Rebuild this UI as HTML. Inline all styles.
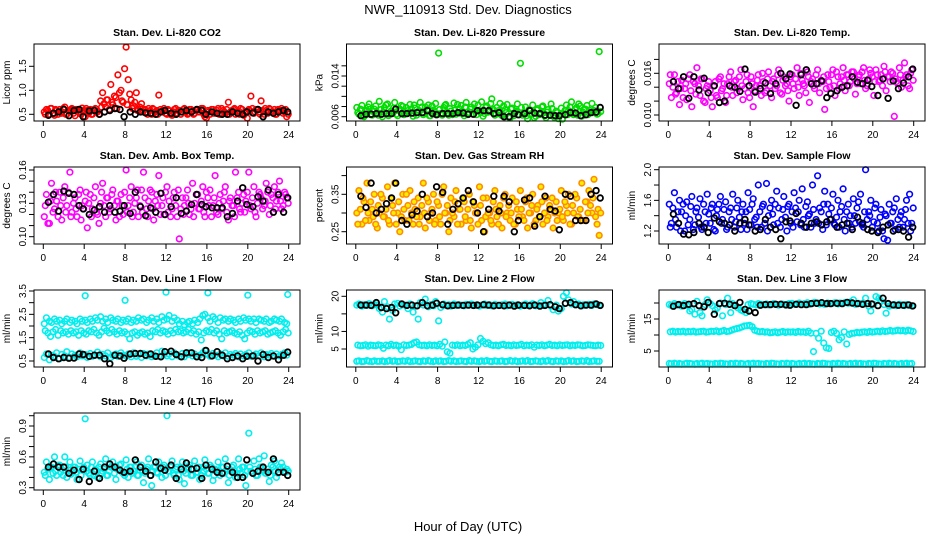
<!DOCTYPE html>
<html><head><meta charset="utf-8">
<style>
html,body{margin:0;padding:0;background:#fff;}
svg{display:block;font-family:"Liberation Sans",Helvetica,Arial,sans-serif;}
</style></head>
<body>
<svg id="chart" width="936" height="540" viewBox="0 0 936 540" xmlns="http://www.w3.org/2000/svg">
<text x="468" y="14" text-anchor="middle" font-size="13">NWR_110913  Std. Dev. Diagnostics</text>
<text x="468" y="531" text-anchor="middle" font-size="13">Hour of Day (UTC)</text>
<g id="panels"></g>
</svg>
<script>
const H=[0.1,0.3,0.6,0.8,1.1,1.3,1.6,1.8,2.1,2.3,2.6,2.8,3.1,3.3,3.6,3.8,4.1,4.3,4.6,4.8,5.1,5.3,5.6,5.8,6.1,6.3,6.6,6.8,7.1,7.3,7.6,7.8,8.1,8.3,8.6,8.8,9.1,9.3,9.6,9.8,10.1,10.3,10.6,10.8,11.1,11.3,11.6,11.8,12.1,12.3,12.6,12.8,13.1,13.3,13.6,13.8,14.1,14.3,14.6,14.8,15.1,15.3,15.6,15.8,16.1,16.3,16.6,16.8,17.1,17.3,17.6,17.8,18.1,18.3,18.6,18.8,19.1,19.3,19.6,19.8,20.1,20.3,20.6,20.8,21.1,21.3,21.6,21.8,22.1,22.3,22.6,22.8,23.1,23.3,23.6,23.8];
const H2=[0.2,0.45,0.7,0.95,1.2,1.45,1.7,1.95,2.2,2.45,2.7,2.95,3.2,3.45,3.7,3.95,4.2,4.45,4.7,4.95,5.2,5.45,5.7,5.95,6.2,6.45,6.7,6.95,7.2,7.45,7.7,7.95,8.2,8.45,8.7,8.95,9.2,9.45,9.7,9.95,10.2,10.45,10.7,10.95,11.2,11.45,11.7,11.95,12.2,12.45,12.7,12.95,13.2,13.45,13.7,13.95,14.2,14.45,14.7,14.95,15.2,15.45,15.7,15.95,16.2,16.45,16.7,16.95,17.2,17.45,17.7,17.95,18.2,18.45,18.7,18.95,19.2,19.45,19.7,19.95,20.2,20.45,20.7,20.95,21.2,21.45,21.7,21.95,22.2,22.45,22.7,22.95,23.2,23.45,23.7,23.95];
const BH=[0.5,1.0,1.5,2.0,2.5,3.0,3.5,3.9,4.5,5.0,5.5,6.0,6.5,7.0,7.5,7.9,8.5,9.0,9.5,10.0,10.5,11.0,11.5,11.9,12.5,13.0,13.5,14.0,14.5,15.0,15.5,15.9,16.5,17.0,17.5,18.0,18.5,19.0,19.5,19.9,20.5,21.0,21.5,22.0,22.5,23.0,23.5,23.9];
const xTicks=[0,4,8,12,16,20,24];

const A1=[0.55,0.6,0.5,0.62,0.48,0.58,0.6,0.52,0.65,0.5,0.57,0.62,0.47,0.6,0.55,0.63,0.45,0.58,0.6,0.5,0.62,0.55,0.78,0.95,0.65,0.8,1.12,0.7,0.85,1.32,1.0,0.75,1.9,1.22,0.8,0.68,0.95,0.6,0.72,0.58,0.55,0.62,0.5,0.6,0.58,0.9,0.55,0.62,0.5,0.57,0.48,0.6,0.52,0.58,0.55,0.62,0.5,0.6,0.57,0.52,0.6,0.55,0.62,0.45,0.58,0.5,0.6,0.55,0.62,0.5,0.58,0.52,0.75,0.55,0.6,0.5,0.57,0.62,0.48,0.55,0.6,0.88,0.52,0.6,0.55,0.78,0.5,0.58,0.62,0.55,0.6,0.5,0.58,0.62,0.55,0.45];
const B1=[0.5,0.58,0.62,0.52,0.6,0.5,0.55,0.62,0.5,0.58,0.6,0.52,0.6,0.55,0.5,0.58,0.62,0.52,0.5,0.6,0.55,0.5,0.65,0.72,0.8,0.6,0.75,0.88,0.62,0.95,0.78,1.45,0.7,0.92,0.62,0.75,0.58,0.65,0.55,0.6,0.5,0.58,0.62,0.55,0.5,0.6,0.58,0.52,0.6,0.5,0.55,0.62,0.58,0.5,0.6,0.55,0.52,0.6,0.5,0.58,0.55,0.62,0.5,0.42,0.55,0.6,0.52,0.58,0.5,0.62,0.55,0.6,0.5,0.58,0.62,0.55,0.5,0.6,0.52,0.42,0.58,0.62,0.55,0.6,0.5,0.58,0.62,0.52,0.6,0.55,0.5,0.6,0.58,0.52,0.6,0.5];
const K1=[0.48,0.52,0.55,0.6,0.47,0.58,0.6,0.45,0.57,0.58,0.5,0.55,0.58,0.62,0.6,0.45,0.55,0.5,0.55,0.53,0.52,0.5,0.55,0.58,0.52,0.5,0.55,0.58,0.55,0.6,0.58,0.5,0.55,0.52,0.5,0.5,0.55,0.52,0.5,0.55,0.53,0.6,0.45,0.55,0.52,0.55,0.58,0.55];

const A2=[0.0078,0.0065,0.0082,0.006,0.0072,0.0085,0.0063,0.0075,0.0068,0.009,0.006,0.0078,0.0085,0.0065,0.007,0.0088,0.0062,0.0075,0.008,0.0066,0.0072,0.0084,0.0061,0.0077,0.0069,0.0088,0.0064,0.0079,0.0083,0.0062,0.0073,0.0086,0.0185,0.0066,0.0078,0.0084,0.0063,0.0071,0.0087,0.0065,0.0076,0.0082,0.0062,0.0088,0.0068,0.0079,0.0085,0.0064,0.0072,0.0089,0.0066,0.0081,0.0074,0.0095,0.0063,0.0078,0.0086,0.0062,0.0074,0.0084,0.0058,0.0077,0.0069,0.0085,0.0165,0.0063,0.0079,0.0056,0.0072,0.0083,0.0061,0.0076,0.0068,0.0081,0.0058,0.0074,0.0085,0.0063,0.0071,0.0056,0.0077,0.0066,0.0083,0.0072,0.0089,0.0064,0.0078,0.0085,0.0061,0.0074,0.0082,0.0067,0.0086,0.0072,0.0065,0.0188];
const B2=[0.0068,0.0075,0.0062,0.0072,0.0079,0.0064,0.007,0.0081,0.0063,0.0074,0.0069,0.0083,0.0062,0.0071,0.0077,0.0065,0.0073,0.0082,0.0064,0.0078,0.0068,0.0075,0.0083,0.0063,0.0072,0.0079,0.0067,0.0074,0.0062,0.0081,0.0069,0.0066,0.0074,0.0063,0.0082,0.0068,0.0076,0.0064,0.0073,0.0084,0.0067,0.007,0.0079,0.0064,0.0075,0.0066,0.0072,0.0083,0.0068,0.0061,0.0078,0.0069,0.0086,0.0074,0.0066,0.0072,0.0064,0.0081,0.0068,0.0059,0.0075,0.0062,0.0071,0.0064,0.0078,0.0069,0.0062,0.0074,0.0066,0.0058,0.0073,0.0064,0.0079,0.0062,0.0069,0.0063,0.0076,0.0058,0.0068,0.0062,0.0055,0.0072,0.0064,0.0079,0.0067,0.0074,0.0063,0.0081,0.0069,0.0075,0.0064,0.0072,0.0068,0.0078,0.0066,0.007];
const K2=[0.0062,0.0065,0.0065,0.0066,0.0065,0.0066,0.0066,0.0075,0.0066,0.0066,0.0067,0.0068,0.0068,0.0072,0.0066,0.0064,0.0066,0.0066,0.0066,0.0068,0.0067,0.0065,0.0065,0.0072,0.0072,0.0072,0.0066,0.0068,0.006,0.006,0.0066,0.0064,0.0066,0.0072,0.0067,0.0066,0.0063,0.0063,0.0062,0.0062,0.0064,0.0068,0.0067,0.0062,0.0064,0.0068,0.0069,0.0078];

const A3=[0.0145,0.0125,0.0158,0.0132,0.0115,0.015,0.0138,0.0122,0.0158,0.0112,0.0145,0.0168,0.0128,0.0152,0.0118,0.0142,0.0135,0.0112,0.0148,0.0125,0.0155,0.0138,0.0118,0.0145,0.0162,0.0128,0.015,0.0138,0.0165,0.0122,0.0148,0.0132,0.0155,0.0112,0.0142,0.0158,0.0128,0.0148,0.0135,0.0162,0.0125,0.0152,0.0142,0.0165,0.013,0.0155,0.0145,0.012,0.0158,0.0138,0.0168,0.0128,0.015,0.0142,0.0162,0.0118,0.0152,0.0138,0.0165,0.0132,0.0148,0.0108,0.0158,0.014,0.0165,0.0128,0.0155,0.0145,0.0168,0.0135,0.0158,0.0148,0.0162,0.013,0.0155,0.0145,0.0168,0.0138,0.0152,0.016,0.0128,0.0165,0.0148,0.0158,0.017,0.0135,0.0155,0.0162,0.0098,0.0148,0.0168,0.014,0.0175,0.0158,0.0138,0.0165];
const B3=[0.0158,0.014,0.013,0.0148,0.0138,0.0125,0.0145,0.0152,0.0135,0.0148,0.013,0.0142,0.0152,0.012,0.0138,0.0148,0.0125,0.0142,0.0128,0.0152,0.0135,0.0145,0.0128,0.0155,0.014,0.0148,0.0132,0.0155,0.0142,0.0138,0.0158,0.0125,0.0145,0.0135,0.015,0.0142,0.016,0.0132,0.0152,0.0142,0.0148,0.0138,0.0158,0.0132,0.015,0.0142,0.0135,0.0155,0.0145,0.0152,0.014,0.016,0.0145,0.0132,0.0155,0.0148,0.0142,0.0158,0.0145,0.015,0.0155,0.0138,0.0148,0.0158,0.0142,0.0162,0.0138,0.0155,0.015,0.0158,0.0142,0.0162,0.0152,0.0145,0.0158,0.0162,0.015,0.0142,0.0165,0.0155,0.0148,0.0158,0.015,0.0142,0.0162,0.0155,0.0148,0.016,0.0152,0.0145,0.0158,0.015,0.0155,0.0142,0.016,0.015];
const K3=[0.0148,0.0138,0.0155,0.0124,0.0155,0.0136,0.0153,0.0132,0.0142,0.0118,0.012,0.0142,0.014,0.0134,0.0166,0.0142,0.0133,0.0138,0.0146,0.0131,0.0145,0.016,0.0152,0.0159,0.0114,0.0158,0.0165,0.0145,0.0145,0.0149,0.0125,0.0131,0.0135,0.014,0.0142,0.0155,0.0147,0.0145,0.015,0.0141,0.0128,0.0152,0.0124,0.0149,0.0138,0.0146,0.0155,0.0166];

const A4=[0.118,0.138,0.112,0.148,0.125,0.132,0.14,0.115,0.145,0.128,0.158,0.122,0.135,0.118,0.142,0.128,0.132,0.108,0.138,0.125,0.145,0.12,0.13,0.148,0.118,0.135,0.125,0.142,0.115,0.132,0.138,0.12,0.16,0.128,0.145,0.122,0.135,0.118,0.142,0.158,0.125,0.132,0.14,0.115,0.138,0.155,0.128,0.12,0.145,0.132,0.125,0.14,0.118,0.098,0.135,0.128,0.142,0.12,0.148,0.13,0.138,0.125,0.145,0.118,0.135,0.142,0.128,0.155,0.12,0.138,0.132,0.145,0.115,0.135,0.128,0.158,0.14,0.122,0.138,0.132,0.158,0.125,0.145,0.118,0.14,0.135,0.128,0.148,0.12,0.138,0.145,0.132,0.15,0.125,0.14,0.135];
const B4=[0.128,0.112,0.132,0.122,0.14,0.118,0.128,0.135,0.122,0.14,0.118,0.13,0.125,0.138,0.115,0.125,0.14,0.13,0.118,0.135,0.122,0.112,0.14,0.128,0.135,0.122,0.138,0.128,0.132,0.118,0.128,0.14,0.122,0.135,0.118,0.13,0.142,0.128,0.122,0.135,0.118,0.142,0.125,0.132,0.128,0.12,0.135,0.14,0.122,0.118,0.135,0.128,0.142,0.125,0.12,0.135,0.13,0.125,0.118,0.138,0.125,0.132,0.122,0.14,0.128,0.118,0.135,0.122,0.13,0.125,0.14,0.122,0.132,0.128,0.118,0.135,0.125,0.13,0.122,0.14,0.128,0.135,0.122,0.13,0.138,0.125,0.132,0.14,0.128,0.135,0.125,0.14,0.132,0.128,0.138,0.13];
const K4=[0.131,0.138,0.123,0.141,0.139,0.138,0.128,0.125,0.12,0.124,0.127,0.122,0.128,0.122,0.123,0.128,0.121,0.14,0.127,0.119,0.126,0.122,0.139,0.12,0.127,0.135,0.121,0.123,0.129,0.138,0.129,0.127,0.126,0.126,0.126,0.118,0.121,0.132,0.144,0.129,0.127,0.136,0.132,0.142,0.122,0.138,0.122,0.135];

const A5=[0.3,0.36,0.27,0.33,0.38,0.28,0.31,0.35,0.26,0.3,0.34,0.29,0.37,0.27,0.32,0.38,0.3,0.25,0.35,0.28,0.32,0.36,0.27,0.31,0.34,0.29,0.38,0.26,0.33,0.3,0.35,0.28,0.32,0.27,0.37,0.3,0.25,0.34,0.29,0.36,0.31,0.27,0.33,0.28,0.35,0.26,0.32,0.3,0.37,0.28,0.25,0.34,0.3,0.27,0.36,0.29,0.32,0.26,0.35,0.3,0.28,0.34,0.27,0.31,0.36,0.29,0.33,0.26,0.3,0.35,0.28,0.32,0.37,0.27,0.34,0.29,0.31,0.26,0.33,0.3,0.36,0.28,0.32,0.35,0.27,0.3,0.34,0.29,0.38,0.28,0.33,0.36,0.3,0.39,0.27,0.24];
const B5=[0.27,0.31,0.34,0.28,0.3,0.33,0.29,0.27,0.32,0.35,0.29,0.31,0.28,0.34,0.3,0.27,0.33,0.29,0.31,0.35,0.28,0.3,0.33,0.29,0.27,0.32,0.3,0.34,0.28,0.31,0.27,0.33,0.29,0.35,0.3,0.32,0.28,0.3,0.33,0.27,0.31,0.34,0.29,0.31,0.28,0.33,0.3,0.27,0.32,0.34,0.29,0.3,0.28,0.33,0.31,0.27,0.3,0.34,0.29,0.32,0.3,0.27,0.33,0.29,0.31,0.28,0.34,0.3,0.32,0.27,0.31,0.29,0.33,0.3,0.28,0.32,0.34,0.3,0.28,0.31,0.29,0.33,0.3,0.27,0.32,0.35,0.29,0.31,0.28,0.33,0.3,0.32,0.34,0.29,0.31,0.3];
const K5=[0.345,0.315,0.38,0.3,0.31,0.325,0.34,0.38,0.28,0.27,0.295,0.305,0.35,0.29,0.3,0.37,0.355,0.27,0.31,0.325,0.34,0.36,0.33,0.3,0.25,0.31,0.345,0.305,0.345,0.33,0.25,0.28,0.335,0.34,0.265,0.29,0.345,0.31,0.305,0.255,0.35,0.345,0.28,0.28,0.28,0.35,0.36,0.34];

const A6=[1.55,1.3,1.7,1.25,1.6,1.45,1.2,1.58,1.35,1.65,1.28,1.5,1.62,1.22,1.45,1.68,1.3,1.55,1.2,1.48,1.65,1.35,1.58,1.25,1.5,1.68,1.32,1.6,1.22,1.55,1.45,1.7,1.28,1.62,1.38,1.8,1.25,1.55,1.82,1.4,1.6,1.28,1.72,1.5,1.35,1.65,1.2,1.55,1.45,1.7,1.32,1.6,1.75,1.25,1.58,1.42,1.8,1.3,1.92,1.5,1.22,1.72,1.55,1.35,1.68,1.28,1.6,1.45,1.75,1.2,1.55,1.4,1.62,1.3,1.58,1.68,1.25,2.0,1.45,1.6,1.32,1.55,1.2,1.48,1.1,1.4,1.55,1.3,1.5,1.62,1.25,1.45,1.35,1.6,1.68,1.3];
const B6=[1.25,1.5,1.35,1.45,1.2,1.55,1.4,1.28,1.52,1.22,1.45,1.38,1.25,1.55,1.3,1.42,1.5,1.22,1.4,1.55,1.3,1.48,1.22,1.45,1.35,1.25,1.5,1.38,1.45,1.3,1.22,1.48,1.55,1.35,1.25,1.45,1.52,1.3,1.2,1.5,1.42,1.55,1.3,1.25,1.48,1.38,1.52,1.3,1.25,1.5,1.45,1.28,1.35,1.52,1.4,1.25,1.48,1.35,1.3,1.45,1.55,1.28,1.42,1.5,1.3,1.38,1.25,1.52,1.35,1.45,1.3,1.25,1.4,1.5,1.32,1.28,1.45,1.35,1.4,1.25,1.5,1.3,1.38,1.2,1.42,1.08,1.3,1.45,1.22,1.35,1.4,1.25,1.48,1.3,1.2,1.5];
const K6=[1.42,1.3,1.16,1.15,1.18,1.3,1.25,1.18,1.37,1.32,1.3,1.28,1.2,1.3,1.35,1.28,1.2,1.22,1.35,1.25,1.22,1.1,1.32,1.33,1.43,1.3,1.25,1.3,1.32,1.28,1.32,1.35,1.25,1.28,1.3,1.22,1.38,1.3,1.22,1.2,1.18,1.25,1.28,1.2,1.22,1.2,1.12,1.25];

const T7=[2.1,2.35,2.2,2.15,2.3,2.2,2.25,2.1,2.2,2.3,2.15,2.25,2.2,2.1,2.3,2.2,2.25,2.15,2.3,2.2,2.35,2.25,2.4,2.2,2.3,2.15,2.35,2.25,2.2,2.3,2.15,2.25,2.2,2.3,2.15,2.25,2.2,2.35,2.25,2.3,2.15,2.25,2.35,2.2,2.3,2.15,2.4,2.25,2.3,2.45,2.2,2.35,2.25,2.1,2.2,2.05,2.15,2.2,2.1,2.25,2.15,2.3,2.45,2.5,2.35,2.2,2.4,2.3,2.15,2.35,2.25,2.3,2.2,2.3,2.25,2.15,2.3,2.2,2.35,2.25,2.3,2.2,2.3,2.15,2.3,2.25,2.2,2.3,2.15,2.2,2.3,2.25,2.2,2.3,2.15,2.1];
const M7=[1.8,1.7,1.55,1.75,1.85,1.6,1.8,1.7,1.75,1.65,1.8,1.7,1.75,1.6,1.8,1.7,1.65,1.8,1.75,1.85,1.7,1.6,1.75,1.9,1.8,1.7,1.85,1.75,1.65,1.8,1.7,1.75,1.65,1.45,1.7,1.75,1.6,1.7,1.75,1.65,1.7,1.55,1.8,1.75,1.85,1.7,1.8,1.75,1.65,1.8,1.7,1.85,1.75,1.8,1.7,1.75,1.85,1.7,1.8,1.65,1.75,1.4,1.7,1.8,1.75,1.85,1.7,1.8,1.65,1.45,1.8,1.7,1.75,1.8,1.7,1.65,1.75,1.6,1.45,1.7,1.8,1.75,1.65,1.8,1.7,1.75,1.8,1.65,1.7,1.75,1.8,1.7,1.6,1.75,1.85,1.7];
const L7=[0.65,0.8,0.55,0.75,0.7,0.85,0.6,0.78,0.72,0.9,0.65,0.8,0.75,0.68,0.85,0.72,0.78,0.65,0.82,0.7,0.75,0.88,0.68,0.78,0.72,0.85,0.65,0.75,0.8,0.7,0.85,0.75,0.72,0.8,0.68,0.85,0.7,0.78,0.65,0.82,0.72,0.8,0.68,0.75,0.85,0.7,0.92,0.78,0.72,0.8,0.68,0.85,0.75,0.7,0.82,0.68,0.78,0.85,0.72,0.8,0.68,0.75,0.85,0.95,0.78,0.7,0.82,0.75,0.68,0.8,0.72,0.85,0.7,0.78,0.75,0.82,0.68,0.8,0.72,0.78,0.85,0.7,0.75,0.8,0.72,0.85,0.68,0.78,0.75,0.82,0.7,0.8,0.72,0.78,0.85,0.75];
const O7H=[4.1,8.0,12.0,16.1,20.0,23.9];
const O7=[3.3,3.1,3.45,3.42,3.32,3.35];
const K7=[0.8,0.65,0.6,0.65,0.62,0.63,0.8,0.78,0.7,0.75,0.75,0.6,0.38,0.75,0.72,0.62,0.8,0.82,0.82,0.75,0.8,0.7,0.68,0.9,0.92,0.78,0.68,0.85,0.85,0.68,0.65,0.95,0.72,0.9,0.75,0.6,0.65,0.72,0.6,0.7,0.72,0.5,0.78,0.65,0.72,0.55,0.75,0.88];

const T8=[17.5,17.8,17.2,17.6,17.4,17.9,17.3,17.7,17.5,16.5,15.5,18.5,17,13.5,16,17.8,18,17.2,17.6,17.5,16.5,17.8,15.5,17.2,13.5,18.2,17.5,19.2,17,17.6,17.3,18.5,13,16.8,17.8,17.4,17.6,17.2,17.8,17.4,17.6,17.5,17.3,17.7,17.5,17.8,17.4,17.6,17.2,17.5,17.8,17.4,17.6,17.3,17.7,17.5,17.4,17.6,17.8,17.3,17.5,17.7,17.4,17.6,17.2,17.5,17.8,17.4,17.6,17.9,17.3,17.5,18.2,17.4,17.6,18.8,17.2,16.2,17.5,15.8,16.5,20,21,19,17.8,18.5,17.6,17.8,17.3,17.6,17.5,17.7,17.4,17.8,17.6,17.5];
const M8=[6.1,5.9,6,6.2,5.8,6.1,6,5.9,6.2,6,5.2,6.1,5.9,6.3,6,6.1,5.8,4.8,6.2,6,6.1,6.3,6.8,7,6.2,6,6.1,5.9,6.2,6,6.1,5.9,6.3,5.8,7,4.2,3.8,6.1,6,6.2,5.9,6.1,6,6.3,6.8,5,5.5,6.2,8,7.2,6.5,6.8,6.2,6,6.1,5.9,6.2,6.3,6,6.1,5.9,6.2,6,6.1,6.3,5.9,6.1,6,6.2,5.5,6.1,6,6.2,5.9,6.1,6.3,6,6.1,5.9,6.2,6,6.1,6.2,5.9,6.1,6,6.2,6.1,5.9,6,6.2,6.1,6,5.9,6.1,6];
const L8=[1.5,1.6,1.4,1.5,1.7,1.5,1.4,1.6,1.5,1.5,1.6,1.4,1.5,1.7,1.5,1.6,1.4,1.5,1.6,1.5,1.7,1.4,1.5,1.6,1.5,1.4,1.6,1.5,1.7,1.5,1.4,1.6,1.5,1.6,1.4,1.5,1.7,1.5,1.6,1.4,1.5,1.6,1.5,1.4,1.7,1.5,1.6,1.5,1.4,1.6,1.5,1.7,1.5,1.4,1.6,1.5,1.5,1.6,1.4,1.5,1.7,1.5,1.6,1.4,1.5,1.6,1.5,1.7,1.4,1.5,1.6,1.5,1.4,1.6,1.5,1.7,1.5,1.4,1.6,1.5,1.6,1.4,1.5,1.7,1.5,1.6,1.4,1.5,1.6,1.5,1.7,1.4,1.5,1.6,1.5,1.5];
const K8=[17.5,17.5,17.4,18.2,16.8,16.5,16.8,15.3,17.8,17.4,17.5,17.3,18.2,17.3,17.5,18,17.6,17.3,17.4,17.5,17.4,17.5,17.4,17.5,17.6,17.5,17.3,17.4,17.3,17.5,17.2,17.5,17.4,17.3,17.5,17.2,17.4,17.6,17,16.5,18,18.2,17.6,17.3,17.5,17.5,17.8,17.4];

const T9=[19.5,19.2,19.8,19.4,19.6,19,19.8,19.3,17.5,18,16.5,20.5,17,16,19.5,21,19.8,19.2,17.8,18.5,20,16,19.5,21.5,17,19.8,19.2,18.5,17.8,17.5,17,19.5,19.8,19.6,19.4,19.8,19.6,19.5,19.7,19.4,19.6,19.8,19.5,19.3,19.7,19.6,19.4,19.8,19.9,19.6,19.7,20,19.5,19.8,20.1,19.6,19.9,20.2,20,19.7,19.9,19.6,20,19.8,19.9,20.1,19.7,20,19.8,20.2,19.9,20.3,21,19.6,19.9,19.8,20,21.5,19,17.5,19.6,22,21.5,20.5,19.5,16.8,19,19.3,19.5,19.2,19.6,19.4,19.2,19.5,19.3,19.1];
const M9=[11,11.2,10.9,11.1,11,11.2,10.9,11.1,11,11.2,10.9,11,11.1,11.2,10.9,11,11.2,11.1,11.3,11,11.2,11.4,11.1,11.2,11.5,11.8,12,12.2,12.5,12.8,12.9,13,12.6,11.5,11.2,11,11.1,10.9,11,10.7,10.8,11,10.7,10.9,11.1,10.8,11,10.9,11,10.8,11.1,10.9,11,10.8,11.2,10.6,4.8,10.5,9,11.2,7.5,6,5.8,10.8,11.2,10.5,8.5,9.2,11,7.2,10.2,10.5,10.6,10.8,10.7,10.9,11,10.8,11.1,10.9,11,11.2,11,11.3,11.1,11.2,11.4,11.2,11.3,11.5,11.3,11.4,11.2,11.5,11.3,11.1];
const L9=[1.1,1,1.2,1,1.1,0.9,1,1.2,1.1,1,0.9,1.1,1,1.2,1,1.1,1,0.9,1.1,1,1.2,1.1,1,0.9,1.1,1,1.2,1,1.1,1,0.9,1.1,1,1.2,1,1.1,1,0.9,1.1,1,1.2,1.1,1,0.9,1.1,1,1.2,1,1.1,1,0.9,1.1,1,1.2,1,1.1,1,0.9,1.1,1,1.2,1.1,1,0.9,1.1,1,1.2,1,1.1,1,0.9,1.1,1,1.2,1,1.1,1,0.9,1.1,1,1.2,1.1,1,0.9,1.1,1,1.2,1,1.1,1,0.9,1.1,1,1.2,1,1.1];
const K9=[19,19.5,19.2,19.6,19.8,19.2,18.8,20.2,16.5,19.8,19.9,19.6,19.2,20.2,18,17.5,17,19.3,19.5,19.5,19.6,19.6,19.4,19.3,19.6,19.5,19.5,19.8,19.9,20.1,19.8,19.8,19.9,19.8,20.2,20,19.8,19.6,19.8,19.7,19.2,21.5,19.8,19.4,19.3,19.3,19.4,19.1];

const A10=[0.45,0.55,0.38,0.5,0.6,0.42,0.52,0.48,0.6,0.4,0.55,0.45,0.5,0.38,0.56,0.47,0.97,0.52,0.42,0.55,0.48,0.4,0.53,0.46,0.58,0.42,0.5,0.55,0.38,0.48,0.53,0.44,0.57,0.4,0.5,0.46,0.55,0.42,0.52,0.35,0.48,0.58,0.32,0.5,0.45,0.55,0.4,0.52,1.0,0.46,0.56,0.42,0.5,0.38,0.55,0.34,0.48,0.52,0.42,0.56,0.45,0.38,0.5,0.57,0.44,0.52,0.37,0.48,0.55,0.42,0.5,0.58,0.35,0.46,0.52,0.4,0.58,0.44,0.5,0.32,0.83,0.46,0.56,0.42,0.58,0.5,0.61,0.44,0.36,0.52,0.56,0.4,0.5,0.54,0.46,0.48];
const B10=[0.42,0.48,0.5,0.44,0.46,0.52,0.45,0.42,0.5,0.47,0.43,0.5,0.45,0.48,0.42,0.5,0.46,0.44,0.5,0.42,0.47,0.5,0.44,0.48,0.42,0.46,0.5,0.44,0.48,0.52,0.45,0.42,0.48,0.5,0.44,0.46,0.42,0.5,0.47,0.44,0.5,0.42,0.46,0.5,0.44,0.48,0.5,0.42,0.46,0.5,0.44,0.48,0.42,0.5,0.46,0.44,0.5,0.42,0.48,0.45,0.5,0.42,0.46,0.48,0.44,0.5,0.42,0.47,0.45,0.5,0.44,0.48,0.42,0.5,0.46,0.44,0.48,0.5,0.42,0.46,0.5,0.44,0.48,0.42,0.5,0.46,0.44,0.48,0.42,0.5,0.46,0.44,0.48,0.5,0.45,0.46];
const K10=[0.5,0.53,0.5,0.5,0.44,0.47,0.38,0.48,0.36,0.46,0.39,0.5,0.53,0.5,0.47,0.45,0.46,0.57,0.5,0.46,0.42,0.55,0.49,0.47,0.52,0.39,0.48,0.54,0.48,0.49,0.39,0.52,0.48,0.45,0.44,0.51,0.45,0.4,0.4,0.57,0.44,0.46,0.5,0.45,0.58,0.45,0.45,0.42];

const NS='http://www.w3.org/2000/svg';
const root=document.getElementById('panels');
function mk(tag,attrs,parent){const e=document.createElementNS(NS,tag);for(const k in attrs)e.setAttribute(k,attrs[k]);parent.appendChild(e);return e;}

const colL=[34,346.5,659], rowT=[44,167,290,413], BW=266, BHt=77;
const panels=[
 {t:'Stan. Dev. Li-820 CO2',yl:'Licor ppm',c:0,r:0,ya:[0.5,114.3,1.5,66.3],ticks:[0.5,1.0,1.5],labs:['0.5','1.0','1.5'],ser:[[H,A1,'#ff0000',null],[H2,B1,'#ff0000',null],[BH,K1,'#000',null]]},
 {t:'Stan. Dev. Li-820 Pressure',yl:'kPa',c:1,r:0,ya:[0.006,116.7,0.014,76],ticks:[0.006,0.008,0.010,0.012,0.014,0.016],labs:['0.006','','','','0.014',''],ser:[[H,A2,'#00dd00',null],[H2,B2,'#00dd00',null],[BH,K2,'#000',null]]},
 {t:'Stan. Dev. Li-820 Temp.',yl:'degrees C',c:2,r:0,ya:[0.010,115,0.016,73.3],ticks:[0.010,0.012,0.014,0.016,0.018],labs:['0.010','','','0.016',''],ser:[[H,A3,'#ff00ff',null],[H2,B3,'#ff00ff',null],[BH,K3,'#000',null]]},
 {t:'Stan. Dev. Amb. Box Temp.',yl:'degrees C',c:0,r:1,ya:[0.10,236.7,0.16,170],ticks:[0.10,0.11,0.12,0.13,0.14,0.15,0.16],labs:['0.10','','','0.13','','','0.16'],ser:[[H,A4,'#ff00ff',null],[H2,B4,'#ff00ff',null],[BH,K4,'#000',null]]},
 {t:'Stan. Dev. Gas Stream RH',yl:'percent',c:1,r:1,ya:[0.25,231.7,0.35,194.3],ticks:[0.25,0.30,0.35,0.40],labs:['0.25','','0.35',''],ser:[[H,A5,'#ff8c00','#ffee00'],[H2,B5,'#ff8c00','#ffee00'],[BH,K5,'#000',null]]},
 {t:'Stan. Dev. Sample Flow',yl:'ml/min',c:2,r:1,ya:[1.2,231,2.0,169.7],ticks:[1.2,1.4,1.6,1.8,2.0],labs:['1.2','','1.6','','2.0'],ser:[[H,A6,'#0000ff',null],[H2,B6,'#0000ff',null],[BH,K6,'#000',null]]},
 {t:'Stan. Dev. Line 1 Flow',yl:'ml/min',c:0,r:2,ya:[0.5,361,3.5,291],ticks:[0.5,1.0,1.5,2.0,2.5,3.0,3.5],labs:['0.5','','1.5','','2.5','','3.5'],ser:[[H,T7,'#00eeee',null],[H2,M7,'#00eeee',null],[H,L7,'#00eeee',null],[O7H,O7,'#00eeee',null],[BH,K7,'#000',null]]},
 {t:'Stan. Dev. Line 2 Flow',yl:'ml/min',c:1,r:2,ya:[5,349,20,296.3],ticks:[5,10,15,20],labs:['5','10','','20'],ser:[[H,T8,'#00eeee',null],[H2,M8,'#00eeee',null],[H,L8,'#00eeee',null],[BH,K8,'#000',null]]},
 {t:'Stan. Dev. Line 3 Flow',yl:'ml/min',c:2,r:2,ya:[5,351,15,319],ticks:[5,10,15,20],labs:['5','','15',''],ser:[[H,T9,'#00eeee',null],[H2,M9,'#00eeee',null],[H,L9,'#00eeee',null],[BH,K9,'#000',null]]},
 {t:'Stan. Dev. Line 4 (LT) Flow',yl:'ml/min',c:0,r:3,ya:[0.3,487.7,0.9,426],ticks:[0.3,0.4,0.5,0.6,0.7,0.8,0.9,1.0],labs:['0.3','','','0.6','','','0.9',''],ser:[[H,A10,'#00eeee',null],[H2,B10,'#00eeee',null],[BH,K10,'#000',null]]}
];

panels.forEach((p,pi)=>{
 const L=colL[p.c], T=rowT[p.r], B=T+BHt, R=L+BW;
 const x0=L+9.3, xs=(BW-20.6)/24;
 const X=h=>x0+h*xs;
 const Y=v=>p.ya[1]+(v-p.ya[0])*(p.ya[3]-p.ya[1])/(p.ya[2]-p.ya[0]);
 const g=mk('g',{},root);
 
 
 const tt=mk('text',{x:(L+R)/2,y:T-8,'text-anchor':'middle','font-size':'10.5','font-weight':'bold'},g);
 tt.textContent=p.t;
 
 
 const yl=mk('text',{x:0,y:0,'text-anchor':'middle','font-size':'10','transform':'translate('+(L-24)+','+((T+B)/2)+') rotate(-90)'},g);
 yl.textContent=p.yl;
 
 
 const pg=mk('g',{},g);
 
 
 p.ser.forEach(s=>{
  const n=Math.min(s[0].length,s[1].length);
  for(let i=0;i<n;i++){
   const yy=Y(s[1][i]);
   const c=mk('circle',{cx:X(s[0][i]).toFixed(1),cy:yy.toFixed(1),r:2.8,fill:s[3]||'none',stroke:s[2],'stroke-width':s[2]==='#000'?1.8:1.6},pg);
   
   
  }
 });
 const box=mk('rect',{x:L,y:T,width:BW,height:BHt,fill:'none',stroke:'#000','stroke-width':1},g);
 
 
 const xa=mk('g',{},g);
 
 
 xTicks.forEach(h=>{
  mk('line',{x1:X(h),x2:X(h),y1:B,y2:B+5,stroke:'#000','stroke-width':1},xa);
  const t=mk('text',{x:X(h),y:B+17,'text-anchor':'middle','font-size':'10'},xa);
  t.textContent=String(h);
  
  
 });
 const ya=mk('g',{},g);
 
 
 mk('line',{x1:L,x2:L,y1:Y(p.ticks[0]),y2:Y(p.ticks[p.ticks.length-1]),stroke:'#000','stroke-width':1},ya);
 p.ticks.forEach((v,i)=>{
  const yy=Y(v);
  mk('line',{x1:L-5,x2:L,y1:yy,y2:yy,stroke:'#000','stroke-width':1},ya);
  if(p.labs[i]){
   const t=mk('text',{x:0,y:0,'text-anchor':'middle','font-size':'10','transform':'translate('+(L-8)+','+yy+') rotate(-90)'},ya);
   t.textContent=p.labs[i];
   
   
  }
 });
});
</script>
</body></html>
